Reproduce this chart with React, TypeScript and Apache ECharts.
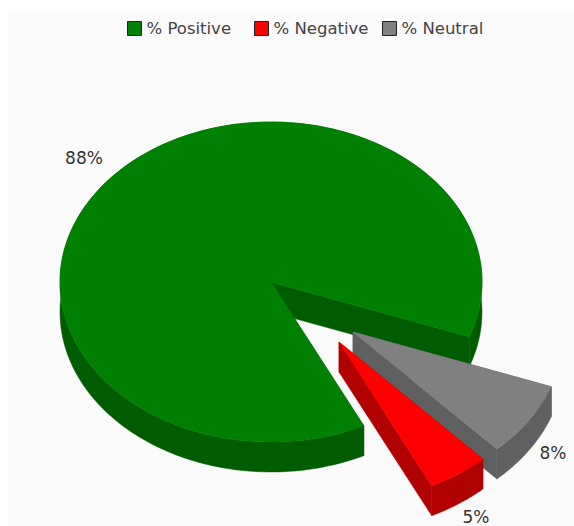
import React, { useEffect, useRef } from "react";
import * as echarts from "echarts";

const sliceNames = ["% Positive", "% Negative", "% Neutral"];
const sliceValues = [87.8, 4.7, 7.5];
const topColors = ["#008000", "#ff0000", "#808080"];
const sideColors = ["#005c00", "#b00000", "#606060"];

// Pie geometry in pixels: ellipse centre and radii, rim depth, slice offsets.
const CX = 271;
const CY = 282;
const RX = 211;
const RY = 160;
const DEPTH = 30;
const START_DEG = 20; // clockwise from 3 o'clock, slices run anticlockwise
const offsets = [
  [0, 0],
  [68, 60],
  [82, 50],
];
const labelPositions = [
  [84, 158],
  [476, 517],
  [553, 453],
];
const legendLefts = [127, 254, 382];
const drawOrder = [0, 2, 1];

const total = sliceValues.reduce((a, b) => a + b, 0);

function sliceAngles(index: number) {
  const before = sliceValues.slice(0, index).reduce((a, b) => a + b, 0);
  const a0 = START_DEG - (before / total) * 360;
  const a1 = a0 - (sliceValues[index] / total) * 360;
  return [a0, a1];
}

function arcPoints(a0: number, a1: number, ox: number, oy: number) {
  const steps = Math.max(2, Math.ceil(Math.abs(a1 - a0) / 1.5));
  const pts: number[][] = [];
  for (let i = 0; i <= steps; i++) {
    const t = ((a0 + ((a1 - a0) * i) / steps) * Math.PI) / 180;
    pts.push([ox + RX * Math.cos(t), oy + RY * Math.sin(t)]);
  }
  return pts;
}

function renderSlice(index: number) {
  return () => {
    const [dx, dy] = offsets[index];
    const ox = CX + dx;
    const oy = CY + dy;
    const [a0, a1] = sliceAngles(index);
    const arc = arcPoints(a0, a1, ox, oy);
    const lower = arc.map(([x, y]) => [x, y + DEPTH]).reverse();
    const apex = [ox, oy];
    const apexLow = [ox, oy + DEPTH];
    const side = sideColors[index];
    const first = arc[0];
    const last = arc[arc.length - 1];
    const shape = (points: number[][], fill: string) => ({
      type: "polygon",
      shape: { points },
      style: { fill, stroke: fill, lineWidth: 0.5 },
    });
    return {
      type: "group",
      children: [
        shape([apex, first, [first[0], first[1] + DEPTH], apexLow], side),
        shape([apex, last, [last[0], last[1] + DEPTH], apexLow], side),
        shape([...arc, ...lower], side),
        shape([apex, ...arc], topColors[index]),
      ],
    };
  };
}

export default function App() {
  const ref = useRef<HTMLDivElement>(null);
  useEffect(() => {
    document.body.style.margin = "0";
    const chart = echarts.init(ref.current!, null, { renderer: "svg" });
    chart.setOption({
      animation: false,
      backgroundColor: "#ffffff",
      legend: sliceNames.map((name, i) => ({
        data: [name],
        top: 20,
        left: legendLefts[i],
        padding: 0,
        itemWidth: 14,
        itemHeight: 14,
        icon: "rect",
        itemStyle: { borderColor: "#222222", borderWidth: 1 },
        textStyle: {
          fontFamily: "DejaVu Sans",
          fontSize: 16.5,
          color: "#444444",
        },
      })),
      graphic: [
        {
          type: "rect",
          silent: true,
          z: -10,
          shape: { x: 8, y: 11, width: 566, height: 515 },
          style: { fill: "#fafafa" },
        },
        ...sliceValues.map((v, i) => ({
          type: "text",
          z: 20,
          x: labelPositions[i][0],
          y: labelPositions[i][1],
          style: {
            text: `${Math.round(v)}%`,
            fontFamily: "DejaVu Sans",
            fontSize: 17,
            fill: "#333333",
            align: "center",
            verticalAlign: "middle",
          },
        })),
      ],
      series: drawOrder.map((i) => ({
        type: "custom",
        name: sliceNames[i],
        coordinateSystem: "none",
        silent: true,
        itemStyle: { color: topColors[i] },
        data: [sliceValues[i]],
        renderItem: renderSlice(i),
      })),
    });
    return () => chart.dispose();
  }, []);
  return <div ref={ref} style={{ width: 574, height: 526 }} />;
}
